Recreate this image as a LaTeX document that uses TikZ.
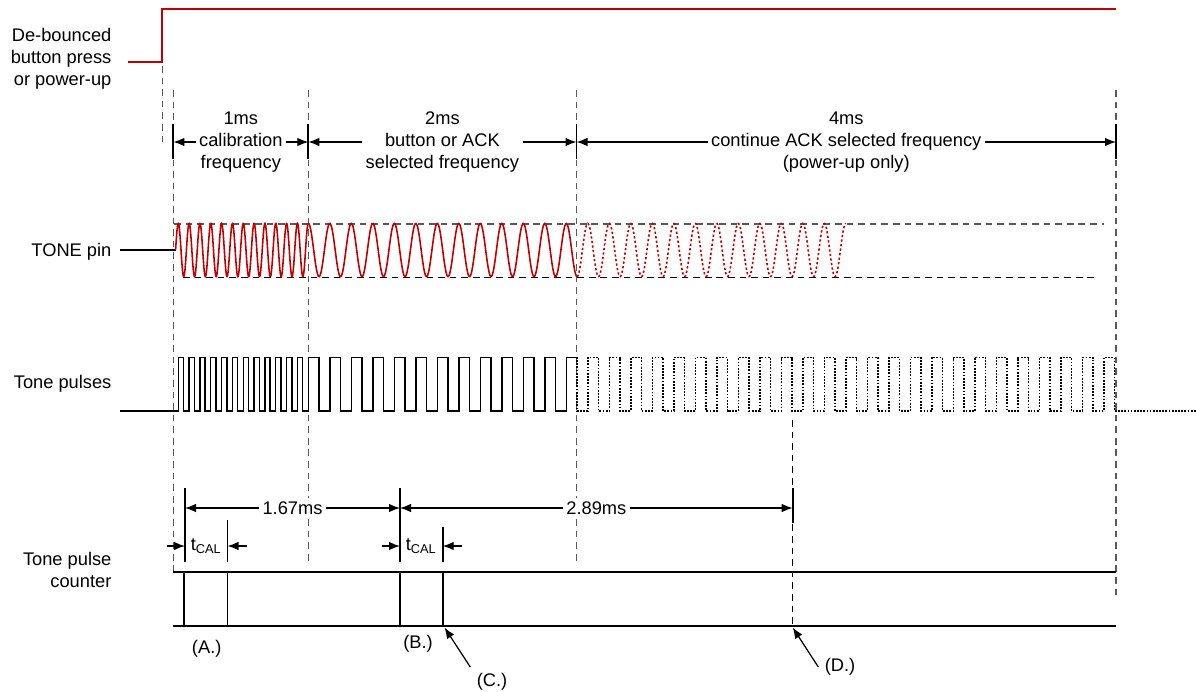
\documentclass[tikz,border=0pt]{standalone}
\usepackage{fontspec}
\setmainfont{Liberation Sans}
\usepackage{tikz}
\usetikzlibrary{arrows.meta,positioning}
\definecolor{tonered}{RGB}{192,0,0}

\begin{document}
\begin{tikzpicture}[
    x=0.02cm, y=-0.02cm,
    line width=0.7pt,
    >={Latex[length=2.2mm,width=1.7mm]},
    font=\fontsize{10.4}{12.6}\selectfont,
    lbl/.style={
		anchor=east,
		align=right,
		inner sep=0pt
	},
	dimtext/.style={
		fill=white,
		align=center,
		inner sep=2pt
	},
	guide/.style={
		draw=black!65,
		line width=0.7pt,
		dash pattern=on 3.8pt off 2.8pt
	},
	tick/.style={
		line width=1pt
	},
	sigred/.style={
		draw=tonered,
		line width=0.9pt
	},
	pulse/.style={
		line width=0.8pt
	},
	counterline/.style={
		line width=1.1pt
	}
  ]
  \useasboundingbox (0,0) rectangle (1196,691);

  % We start by placing the signal names
  \node [lbl] (debounce) at (112,59) {De-bounced\\button press\\or power-up};
  \node [lbl] (tonepin) at (112,252) {TONE pin};
  \node [lbl] (tonepulses) at (112,384) {Tone pulses};
  \node [lbl] (counter) at (112,570) {Tone pulse\\counter};

  % button / power-up edge
  \draw [sigred, line width=1.3pt] (128,61.7) -- (162.3,61.7) -- (162.3,9) -- (1116,9);
  \draw [guide] (162.3,66) -- (162.3,143);

  % phase boundaries
  \draw [guide] (173.3,90) -- (173.3,572);
  \draw [guide] (308.3,90) -- (308.3,565);
  \draw [guide] (576.5,90) -- (576.5,565);
  \draw [guide] (1116,90) -- (1116,600);
  \draw [guide, draw=black] (792.7,420) -- (792.7,626);

  % phase durations
  \coordinate (ph0) at (173.3,142);
  \coordinate (ph1) at (308.3,142);
  \coordinate (ph2) at (576.5,142);
  \coordinate (ph3) at (1116,142);
  \foreach \x in {173.3,308.3,576.5,1116}
    \draw [tick] (\x,124) -- (\x,159);
  \draw [<->] (ph0) -- node [dimtext] {1ms\\calibration\\frequency} (ph1);
  \draw [<->] (ph1) -- node [dimtext] {2ms\\button or ACK\\selected frequency} (ph2);
  \draw [<->] (ph2) -- node [dimtext] {4ms\\continue ACK selected frequency\\(power-up only)} (ph3);

  % TONE pin
  \draw [guide] (174,224) -- (1104,224);
  \draw [guide, draw=black] (183,277.3) -- (1094,277.3);
  \draw [line width=0.9pt] (120,250) -- (175.6,250);
  \draw [sigred, domain=175.6:308.3, samples=500]
    plot (\x, {250-26.6*cos((\x-178.3)/10.83*360)});
  \draw [sigred, domain=308.3:577, samples=400]
    plot (\x, {250-26.6*cos((\x-308.3)/21.5*360)});
  \draw [sigred, dash pattern=on 1.3pt off 1.3pt, domain=577:845.8, samples=400]
    plot (\x, {250-26.6*cos((\x-308.3)/21.5*360)});

  % Tone pulses
  \draw [pulse] (120,411) -- (178.3,411)
    \foreach \k in {0,...,11} {
      -- (178.3+\k*10.83,411) -- (178.3+\k*10.83,357.5)
      -- (183.5+\k*10.83,357.5) -- (183.5+\k*10.83,411)
    } -- (308.3,411)
    \foreach \k in {0,...,11} {
      -- (308.3+\k*21.5,411) -- (308.3+\k*21.5,357.5)
      -- (319.05+\k*21.5,357.5) -- (319.05+\k*21.5,411)
    } -- (566.3,411) -- (566.3,357.5) -- (576.5,357.5);
  \draw [pulse, dash pattern=on 1pt off 0.8pt] (576.5,357.5) -- (577.05,357.5) -- (577.05,411)
    \foreach \k in {0,...,24} {
      -- (587.8+\k*21.5,411) -- (587.8+\k*21.5,357.5)
      -- (598.55+\k*21.5,357.5) -- (598.55+\k*21.5,411)
    } -- (1196,411);

  % counter timing
  \coordinate (m0) at (185,508);
  \coordinate (m1) at (400,508);
  \coordinate (m2) at (792.7,508);
  \draw [tick] (185,488) -- (185,562);
  \draw [tick] (400,488) -- (400,562);
  \draw [tick] (792.7,488) -- (792.7,523);
  \draw [tick] (227.5,520) -- (227.5,562);
  \draw [tick] (442.7,527) -- (442.7,562);
  \draw [<->] (m0) -- node [dimtext] {1.67ms} (m1);
  \draw [<->] (m1) -- node [dimtext] {2.89ms} (m2);

  \node (tcalA) at (206.3,546) {t\textsubscript{CAL}};
  \node (tcalB) at (421.3,546) {t\textsubscript{CAL}};
  \coordinate (ca0) at (166.7,546);
  \coordinate (ca1) at (185,546);
  \coordinate (ca2) at (246.7,546);
  \coordinate (ca3) at (227.5,546);
  \coordinate (cb0) at (381.7,546);
  \coordinate (cb1) at (400,546);
  \coordinate (cb2) at (461.7,546);
  \coordinate (cb3) at (442.7,546);
  \draw [->] (ca0) -- (ca1);
  \draw [->] (ca2) -- (ca3);
  \draw [->] (cb0) -- (cb1);
  \draw [->] (cb2) -- (cb3);

  % Tone pulse counter
  \draw [counterline] (173.3,572.3) -- (1116,572.3);
  \draw [counterline] (173.3,625.7) -- (1116,625.7);
  \draw [counterline] (184.3,572.3) rectangle (227.5,625.7);
  \draw [counterline] (400,572.3) rectangle (442.7,625.7);

  \node (lblA) at (206.7,649) {(A.)};
  \node (lblB) at (418,644) {(B.)};
  \node (lblC) at (492,682) {(C.)};
  \node (lblD) at (840,667) {(D.)};
  \coordinate (ptC) at (444.5,627.5);
  \coordinate (ptD) at (792.7,627.5);
  \draw [->] (lblC.north west) -- (ptC);
  \draw [->] (lblD.west) -- (ptD);
\end{tikzpicture}
\end{document}
